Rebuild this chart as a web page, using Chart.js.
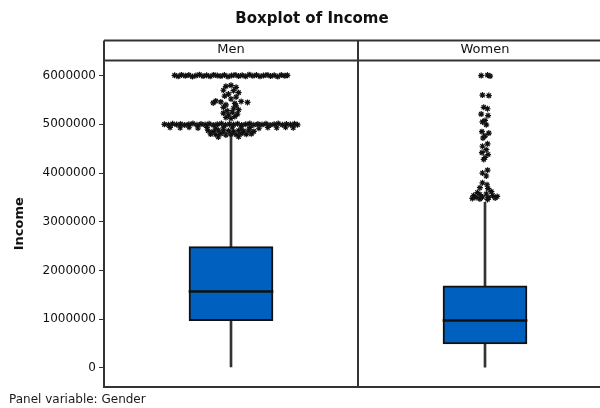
<!DOCTYPE html>
<html><head><meta charset="utf-8">
<script src="https://cdn.jsdelivr.net/npm/chart.js@4/dist/chart.umd.min.js"></script>
<style>
html,body{margin:0;padding:0;background:#fff;overflow:hidden;width:600px;height:408px;}
#wrap{position:relative;width:640px;height:408px;}
#footer{position:absolute;left:9px;top:392px;font:12px "DejaVu Sans";color:#1a1a1a;white-space:nowrap;}
</style></head><body>
<div id="wrap"><canvas id="c" width="640" height="408"></canvas><div id="footer">Panel variable: Gender</div></div>
<script>
const categories = ['Men', 'Women'];
const whiskerLow = [20000, 15000];
const q1 = [970000, 495000];
const median = [1570000, 975000];
const q3 = [2490000, 1685000];
const whiskerHigh = [4770000, 3400000];
const yTicks = [0, 1000000, 2000000, 3000000, 4000000, 5000000, 6000000];

// outliers: [jitter offset within panel (category units), income]
const menOutliers = [
  [-0.222,6005000],[-0.208,5985000],[-0.195,6015000],[-0.18,5995000],[-0.166,6010000],[-0.152,5980000],[-0.138,6000000],[-0.124,6020000],[-0.11,5990000],[-0.096,6005000],[-0.082,5985000],[-0.068,6015000],[-0.054,6000000],[-0.04,5990000],[-0.026,6010000],[-0.012,5980000],[0.002,6000000],[0.016,6015000],[0.03,5990000],[0.044,6005000],[0.058,5985000],[0.072,6020000],[0.086,5995000],[0.1,6010000],[0.114,5985000],[0.128,6000000],[0.142,6015000],[0.156,5990000],[0.17,6005000],[0.184,5980000],[0.198,6010000],[0.212,5995000],[0.222,6005000],
  [0,5800000],[-0.02,5780000],[0.02,5760000],[-0.03,5700000],[0.01,5690000],[0.03,5650000],[-0.01,5620000],[-0.025,5580000],[0.02,5560000],[0,5520000],[-0.06,5480000],[-0.04,5460000],[0.04,5470000],[0.065,5450000],[-0.07,5440000],[0.015,5430000],[-0.02,5400000],[0.02,5380000],[-0.03,5350000],[0.01,5330000],[0.03,5300000],[-0.015,5280000],[0.005,5250000],[-0.03,5230000],[0.025,5210000],[-0.01,5190000],[0.015,5160000],[-0.02,5140000],[0,5120000],
  [-0.262,5000000],[-0.246,4990000],[-0.23,5010000],[-0.214,4995000],[-0.198,5005000],[-0.182,4985000],[-0.166,5000000],[-0.15,5015000],[-0.134,4990000],[-0.118,5005000],[-0.102,4995000],[-0.086,5010000],[-0.07,4985000],[-0.054,5000000],[-0.038,5015000],[-0.022,4990000],[-0.006,5005000],[0.01,4995000],[0.026,5010000],[0.042,4985000],[0.058,5000000],[0.074,5015000],[0.09,4990000],[0.106,5005000],[0.122,4995000],[0.138,5010000],[0.154,4985000],[0.17,5000000],[0.186,5015000],[0.202,4990000],[0.218,5005000],[0.234,4995000],[0.25,5010000],[0.262,4990000],
  [-0.24,4935000],[-0.2,4930000],[-0.165,4940000],[-0.13,4925000],[-0.095,4935000],[-0.06,4920000],[-0.03,4930000],[0.005,4940000],[0.04,4925000],[0.075,4935000],[0.11,4920000],[0.145,4935000],[0.18,4930000],[0.215,4940000],[0.245,4930000],
  [-0.09,4870000],[-0.07,4850000],[-0.05,4880000],[-0.03,4860000],[-0.01,4870000],[0.01,4850000],[0.03,4875000],[0.05,4860000],[0.07,4880000],[0.09,4855000],[-0.08,4800000],[-0.06,4790000],[-0.04,4810000],[-0.02,4780000],[0.0,4800000],[0.02,4790000],[0.04,4810000],[0.06,4795000],[0.08,4805000],[-0.05,4740000],[0.03,4745000]
];
const womenOutliers = [
  [-0.015,6000000],[0.01,6010000],[0.02,5990000],
  [-0.01,5600000],[0.015,5590000],
  [-0.005,5350000],[0.01,5320000],
  [-0.015,5210000],[0.012,5180000],[0,5080000],[-0.01,5050000],
  [0.005,4990000],
  [-0.012,4850000],[0.015,4820000],[0,4760000],[-0.008,4720000],
  [0.01,4600000],[-0.01,4550000],[0.005,4480000],[-0.012,4420000],[0.012,4380000],[0,4320000],[-0.005,4280000],
  [0.01,4060000],[-0.01,4000000],[0.005,3940000],
  [-0.01,3800000],[0.008,3760000],[-0.02,3700000],[0.012,3680000],[-0.03,3600000],[0.025,3620000],[-0.045,3540000],[-0.02,3560000],[0.005,3570000],[0.03,3540000],[0.048,3520000],[-0.035,3500000],[-0.01,3510000],[0.015,3500000],[-0.05,3480000],[0.04,3490000],[-0.02,3470000],[0.01,3460000]
];

const INK = '#111111';
const LINE = '#333333';
const BOX = '#0060C0';
const medHalf = 18000;

const outlierPoints = [
  ...menOutliers.map(([dx, v]) => ({x: 0 + dx, y: v})),
  ...womenOutliers.map(([dx, v]) => ({x: 1 + dx, y: v}))
];

const framePlugin = {
  id: 'frame',
  afterDraw(chart) {
    const {ctx, chartArea: {left, right, top, bottom}} = chart;
    const headTop = chart.scales.xTop.top;
    const mid = chart.scales.x2.getPixelForValue(0.5);
    ctx.save();
    ctx.strokeStyle = LINE;
    ctx.lineWidth = 2;
    ctx.beginPath();
    ctx.moveTo(left, headTop); ctx.lineTo(right, headTop);
    ctx.moveTo(left, top); ctx.lineTo(right, top);
    ctx.moveTo(left, bottom); ctx.lineTo(right, bottom);
    ctx.moveTo(left, headTop); ctx.lineTo(left, bottom);
    ctx.moveTo(mid, headTop); ctx.lineTo(mid, bottom);
    ctx.stroke();
    ctx.restore();
  }
};

new Chart(document.getElementById('c'), {
  type: 'bar',
  data: {
    labels: categories,
    datasets: [
      {
        type: 'scatter', label: 'Outliers', xAxisID: 'x2', yAxisID: 'y',
        data: outlierPoints, pointStyle: 'star', pointRadius: 3,
        borderColor: INK, backgroundColor: INK, borderWidth: 1.2
      },
      {
        label: 'Median', xAxisID: 'x', yAxisID: 'y', grouped: false,
        data: median.map(m => [m - medHalf, m + medHalf]),
        backgroundColor: INK, borderWidth: 0, barThickness: 84
      },
      {
        label: 'IQR', xAxisID: 'x', yAxisID: 'y', grouped: false,
        data: q1.map((v, i) => [v, q3[i]]),
        backgroundColor: BOX, borderColor: INK, borderWidth: 2, borderSkipped: false, barThickness: 84
      },
      {
        label: 'Whisker', xAxisID: 'x', yAxisID: 'y', grouped: false,
        data: whiskerLow.map((v, i) => [v, whiskerHigh[i]]),
        backgroundColor: LINE, borderWidth: 0, barThickness: 2
      }
    ]
  },
  options: {
    responsive: false,
    animation: false,
    layout: {padding: {left: 12, right: 28, top: 0, bottom: 21}},
    plugins: {
      legend: {display: false},
      tooltip: {enabled: false},
      title: {
        display: true, text: 'Boxplot of Income', color: INK,
        font: {family: 'DejaVu Sans', size: 15, weight: 'bold'},
        padding: {top: 10.5, bottom: 12}
      }
    },
    scales: {
      x: {type: 'category', labels: categories, display: false, offset: true},
      xTop: {
        type: 'category', labels: categories, position: 'top', offset: true,
        grid: {display: false, drawTicks: false}, border: {display: false},
        ticks: {color: INK, font: {family: 'DejaVu Sans', size: 13}, padding: 3},
        afterFit(s) { s.height = 20; }
      },
      x2: {type: 'linear', min: -0.5, max: 1.5, display: false, offset: false, grid: {offset: false}},
      y: {
        min: -390000, max: 6310000,
        afterBuildTicks(s) { s.ticks = yTicks.map(v => ({value: v})); },
        ticks: {callback: v => String(v), color: INK, font: {family: 'DejaVu Sans', size: 12}, padding: 3},
        grid: {drawOnChartArea: false, drawTicks: true, tickLength: 5, color: LINE},
        border: {display: true, color: LINE, width: 2},
        title: {display: true, text: 'Income', color: INK, font: {family: 'DejaVu Sans', size: 13, weight: 'bold'}, padding: 0},
        afterFit(s) { s.width = 92; }
      }
    }
  },
  plugins: [framePlugin]
});
</script>
</body></html>
